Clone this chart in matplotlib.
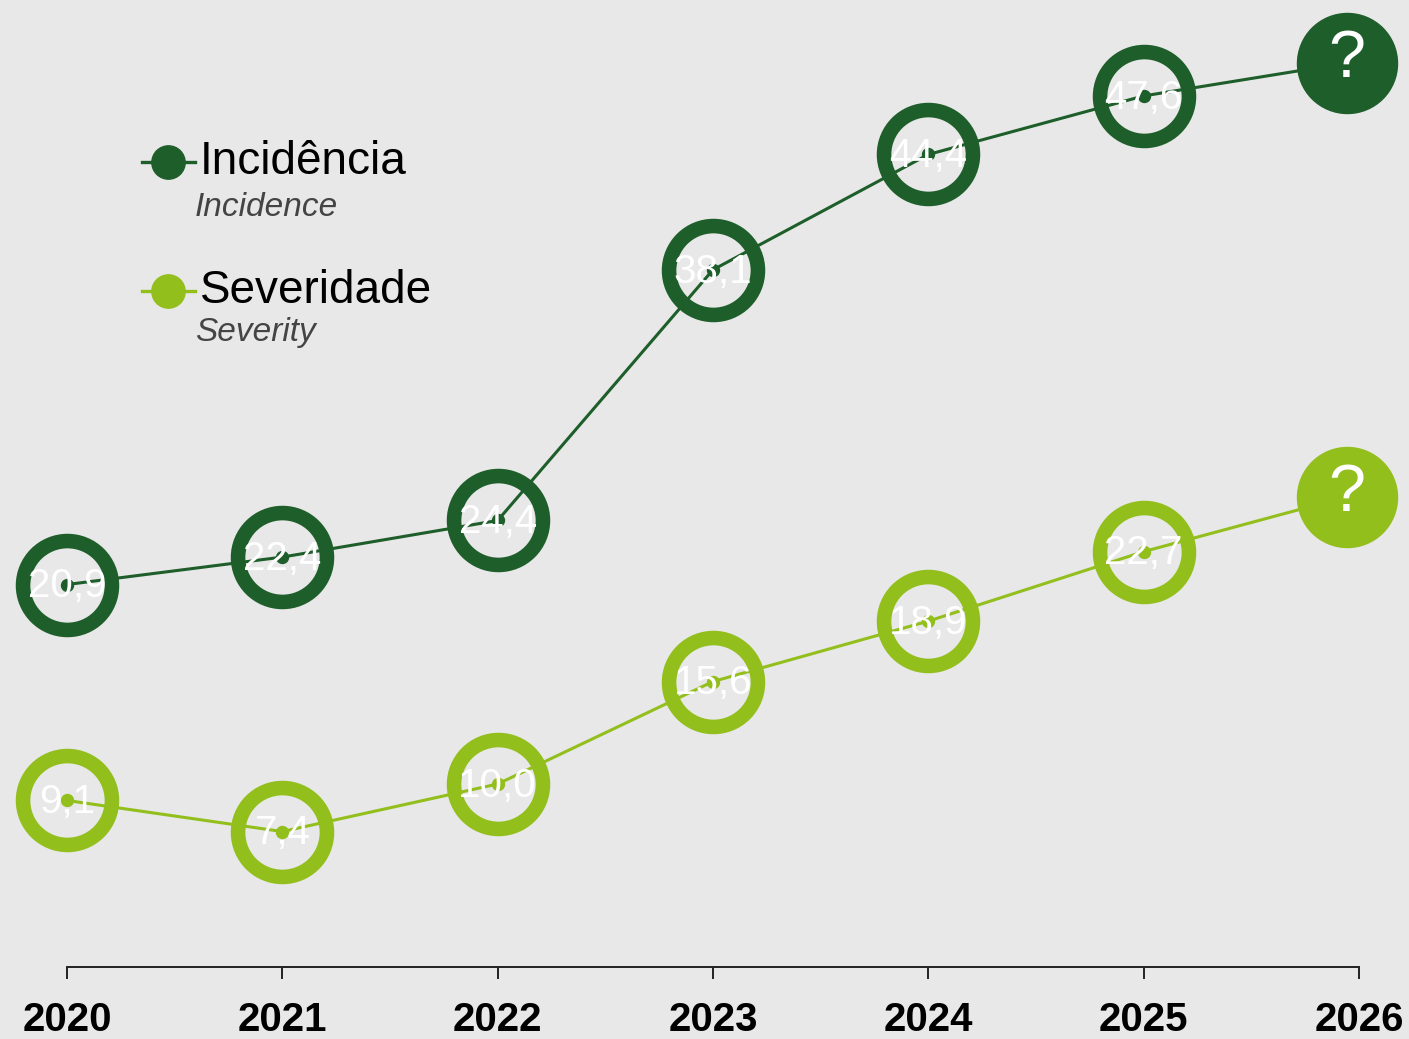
import matplotlib
matplotlib.use("Agg")
import matplotlib.pyplot as plt
import matplotlib.transforms as mtransforms
from matplotlib.lines import Line2D

# data
years = [2020, 2021, 2022, 2023, 2024, 2025]
next_year = 2026
incidence = [20.9, 22.4, 24.4, 38.1, 44.4, 47.6]
severity = [9.1, 7.4, 10.0, 15.6, 18.9, 22.7]
# unknown 2026 values, only the position of the "?" marker
incidence_next = 49.4
severity_next = 25.7
tick_years = [2020, 2021, 2022, 2023, 2024, 2025, 2026]

DARK = "#1e5e2a"
LIGHT = "#93bf1d"
BG = "#e8e8e8"
W, H = 1409, 1039

plt.rcParams['font.family'] = ['Liberation Sans', 'DejaVu Sans']

fig = plt.figure(figsize=(W / 100, H / 100), dpi=100)
fig.patch.set_facecolor(BG)
ax = fig.add_axes([0, 0, 1, 1])
ax.set_facecolor(BG)

px_year = (1359 - 67) / 6.0
px_unit = 18.3
ax.set_xlim(2020 - 67 / px_year, 2026 + (W - 1359) / px_year)
ax.set_ylim(-(H - 967) / px_unit, 967 / px_unit)

# the "?" bubble sits a little left of the 2026 tick so it stays inside the picture
shift = mtransforms.offset_copy(ax.transData, fig=fig, x=-12, y=0, units='dots')


def draw_series(vals, last, color):
    ax.plot(years, vals, color=color, lw=2.2, zorder=1)
    # last segment runs to the shifted "?" bubble
    p0 = ax.transData.transform((years[-1], vals[-1]))
    p1 = shift.transform((next_year, last))
    inv = ax.transData.inverted()
    q0, q1 = inv.transform(p0), inv.transform(p1)
    ax.plot([q0[0], q1[0]], [q0[1], q1[1]], color=color, lw=2.2, zorder=1)
    ax.plot(years, vals, 'o', color=color, ms=8.6, zorder=2)
    ax.plot(years, vals, 'o', mfc='none', mec=color, mew=10.5, ms=64, zorder=3)
    ax.plot([next_year], [last], 'o', color=color, ms=72, zorder=3, transform=shift)
    for x, v in zip(years, vals):
        ax.text(x, v - 0.1, f"{v:.1f}".replace('.', ','), color='white', fontsize=29,
                ha='center', va='center', zorder=4)
    ax.text(next_year, last + 0.15, "?", color='white', fontsize=48,
            ha='center', va='center', zorder=4, transform=shift)


draw_series(incidence, incidence_next, DARK)
draw_series(severity, severity_next, LIGHT)

# bottom axis
for s in ['top', 'right', 'left']:
    ax.spines[s].set_visible(False)
ax.spines['bottom'].set_position(('data', 0))
ax.spines['bottom'].set_bounds(2020, 2026)
ax.spines['bottom'].set_linewidth(1.4)
ax.spines['bottom'].set_color('#222222')
ax.set_yticks([])
ax.set_xticks(tick_years)
ax.set_xticklabels([str(y) for y in tick_years], fontsize=29, fontweight='bold')
ax.tick_params(axis='x', direction='out', length=8.6, width=1.4, color='#222222', pad=16)

# legend drawn by hand
def fx(p):
    return p / W


def fy(p):
    return 1 - p / H


for yy, color, label, sub, sy in [(162, DARK, "Incidência", "Incidence", 208),
                                  (291, LIGHT, "Severidade", "Severity", 333)]:
    fig.add_artist(Line2D([fx(142), fx(195)], [fy(yy), fy(yy)], color=color, lw=2.4,
                          transform=fig.transFigure))
    fig.add_artist(Line2D([fx(168)], [fy(yy)], marker='o', color=color, ms=24,
                          transform=fig.transFigure))
    fig.text(fx(200), fy(yy), label, fontsize=33, color='black', ha='left', va='center')
    fig.text(fx(195), fy(sy), sub, fontsize=24, style='italic', color='#444444',
             ha='left', va='center')

fig.savefig("out.png", dpi=100, facecolor=BG)
